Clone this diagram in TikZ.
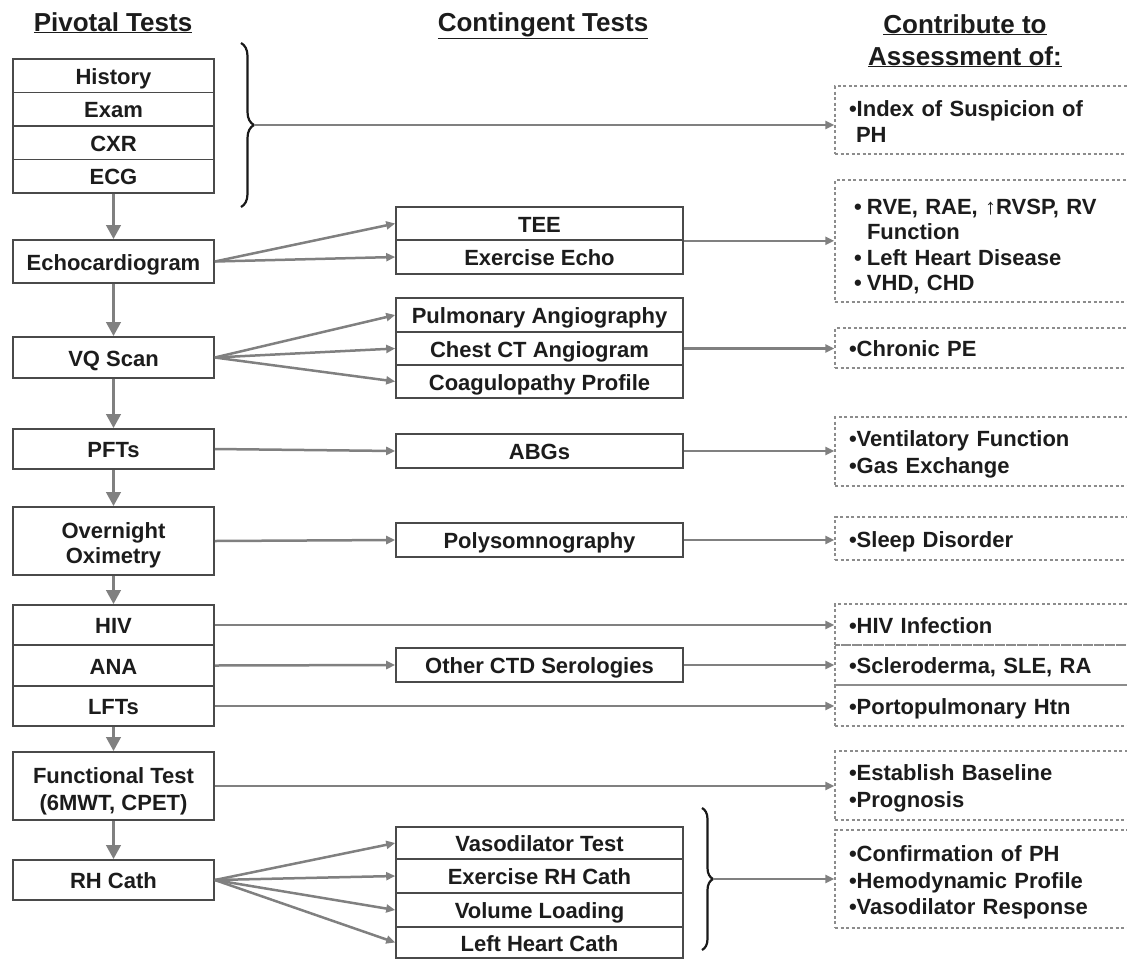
\documentclass[tikz,border=0pt]{standalone}
\usepackage{fontspec}
\setmainfont{Liberation Sans}
\usetikzlibrary{arrows.meta,decorations.pathreplacing}
\definecolor{boxc}{HTML}{4A4A4A}
\definecolor{arrc}{HTML}{808080}
\definecolor{dashc}{HTML}{8C8C8C}
\definecolor{txtc}{HTML}{1C1C1C}
\newcommand{\bul}{\makebox[13pt][l]{•}}
\begin{document}
\begin{tikzpicture}[x=1pt,y=-1pt,
  boxbase/.style={draw=boxc, line width=1.6pt, fill=white, minimum width=201pt, inner sep=0pt,
    align=center, text=txtc, font=\fontsize{22}{25.5}\selectfont\bfseries},
  lbox/.style={boxbase, text height=17pt, text depth=0pt},
  mbox/.style={lbox, minimum width=287pt},
  rbase/.style={draw=dashc, line width=1.3pt, dash pattern=on 3pt off 2.5pt, minimum width=296pt,
    text width=268pt, inner xsep=14pt, inner ysep=0pt, align=left, text=txtc,
    font=\fontsize{22}{26.5}\selectfont\bfseries},
  rbox/.style={rbase, text height=17pt, text depth=0pt},
  down/.style={draw=arrc, line width=3.5pt, -{Triangle[length=14pt,width=14pt]}},
  conn/.style={draw=arrc, line width=2.5pt, -{Triangle[length=9pt,width=8pt]}},
  hdr/.style={text=txtc, anchor=base, inner sep=0pt, font=\fontsize{26}{32}\selectfont\bfseries},
  bracestyle/.style={draw=black!90, line width=2.2pt, decorate}
]
\useasboundingbox (0,0) rectangle (1127,959);

% headers
\node[hdr] (h1) at (113,31) {\underline{Pivotal Tests}};
\node[hdr] (h2) at (543,31) {\underline{Contingent Tests}};
\node[hdr] (h3a) at (965,33) {\underline{Contribute to}};
\node[hdr] (h3b) at (965,65) {\underline{Assessment of:}};

% pivotal tests
\node[lbox, minimum height=33.5pt] (hist) at (113.5,75.75) {History};
\node[lbox, minimum height=33.5pt] (exam) at (113.5,109.25) {Exam};
\node[lbox, minimum height=33.5pt] (cxr) at (113.5,142.75) {CXR};
\node[lbox, minimum height=33.5pt] (ecg) at (113.5,176.25) {ECG};
\node[lbox, minimum height=43pt] (echo) at (113.5,261.5) {Echocardiogram};
\node[lbox, minimum height=41pt] (vq) at (113.5,357.5) {VQ Scan};
\node[lbox, minimum height=40pt] (pfts) at (113.5,449) {PFTs};
\node[boxbase, text height=50pt, minimum height=68pt] (oxim) at (113.5,541) {Overnight\\Oximetry};
\node[lbox, minimum height=40pt] (hiv) at (113.5,625) {HIV};
\node[lbox, minimum height=41pt] (ana) at (113.5,665.5) {ANA};
\node[lbox, minimum height=40pt] (lfts) at (113.5,706) {LFTs};
\node[boxbase, text height=54pt, minimum height=68pt, font=\fontsize{22}{27}\selectfont\bfseries] (func) at (113.5,786) {Functional Test\\(6MWT, CPET)};
\node[lbox, minimum height=40pt] (rh) at (113.5,880) {RH Cath};

% contingent tests
\node[mbox, minimum height=33pt] (tee) at (539.5,223.5) {TEE};
\node[mbox, minimum height=34pt] (exer) at (539.5,257) {Exercise Echo};
\node[mbox, minimum height=34pt] (pulm) at (539.5,315) {Pulmonary Angiography};
\node[mbox, minimum height=33pt] (chest) at (539.5,348.5) {Chest CT Angiogram};
\node[mbox, minimum height=33pt] (coag) at (539.5,381.5) {Coagulopathy Profile};
\node[mbox, minimum height=34pt] (abg) at (539.5,451) {ABGs};
\node[mbox, minimum height=34pt] (poly) at (539.5,540) {Polysomnography};
\node[mbox, minimum height=34pt] (ctd) at (539.5,665) {Other CTD Serologies};
\node[mbox, minimum height=32pt] (vaso) at (539.5,843) {Vasodilator Test};
\node[mbox, minimum height=34pt] (exrh) at (539.5,876) {Exercise RH Cath};
\node[mbox, minimum height=34pt] (vol) at (539.5,910) {Volume Loading};
\node[mbox, minimum height=31pt] (lhc) at (539.5,942.5) {Left Heart Cath};

% assessment
\node[rbase, text height=19pt, minimum height=68pt] (r1) at (983,120) {•Index of Suspicion of\\\hspace*{7pt}PH};
\node[rbase, text height=26pt, minimum height=122pt, font=\fontsize{22}{25.5}\selectfont\bfseries] (r2) at (983,241)
  {\hspace*{5pt}\bul RVE, RAE, ↑RVSP, RV\\\hspace*{18pt}Function\\\hspace*{5pt}\bul Left Heart Disease\\\hspace*{5pt}\bul VHD, CHD};
\node[rbox, minimum height=40pt] (r3) at (983,348) {•Chronic PE};
\node[rbase, text height=22pt, minimum height=69pt] (r4) at (983,451.5) {•Ventilatory Function\\•Gas Exchange};
\node[rbox, minimum height=43pt] (r5) at (983,538.5) {•Sleep Disorder};
\node[rbox, minimum height=41pt] (r6a) at (983,624.5) {•HIV Infection};
\node[rbox, minimum height=40pt] (r6b) at (983,665) {•Scleroderma, SLE, RA};
\node[rbox, minimum height=41pt] (r6c) at (983,705.5) {•Portopulmonary Htn};
\node[rbase, text height=22pt, minimum height=69pt] (r7) at (983,785.5) {•Establish Baseline\\•Prognosis};
\node[rbase, text height=23.5pt, minimum height=98pt] (r8) at (983,879) {•Confirmation of PH\\•Hemodynamic Profile\\•Vasodilator Response};

% braces
\draw[bracestyle, decoration={brace, amplitude=13pt}] (241,43) -- (241,207);
\coordinate (tipA) at (254,125);
\draw[bracestyle, decoration={brace, amplitude=11pt}] (702,808) -- (702,950);
\coordinate (tipB) at (713,879);

% vertical flow
\draw[down] (ecg) -- (echo);
\draw[down] (echo) -- (vq);
\draw[down] (vq) -- (pfts);
\draw[down] (pfts) -- (oxim);
\draw[down] (oxim) -- (hiv);
\draw[down] (lfts) -- (func);
\draw[down] (func) -- (rh);

% connectors
\draw[conn] (tipA) -- (tipA -| r1.west);
\draw[conn] (echo.east) -- (tee.west);
\draw[conn] (echo.east) -- (exer.west);
\draw[conn] (tee.south east) -- (tee.south east -| r2.west);
\draw[conn] (vq.east) -- (pulm.west);
\draw[conn] (vq.east) -- (chest.west);
\draw[conn] (vq.east) -- (coag.west);
\draw[conn] (chest.east) -- (chest.east -| r3.west);
\draw[conn] (pfts.east) -- (abg.west);
\draw[conn] (abg.east) -- (abg.east -| r4.west);
\draw[conn] (oxim.east) -- (poly.west);
\draw[conn] (poly.east) -- (poly.east -| r5.west);
\draw[conn] (hiv.east) -- (hiv.east -| r6a.west);
\draw[conn] (ana.east) -- (ctd.west);
\draw[conn] (ctd.east) -- (ctd.east -| r6b.west);
\draw[conn] (lfts.east) -- (lfts.east -| r6c.west);
\draw[conn] (func.east) -- (func.east -| r7.west);
\draw[conn] (rh.east) -- (vaso.west);
\draw[conn] (rh.east) -- (exrh.west);
\draw[conn] (rh.east) -- (vol.west);
\draw[conn] (rh.east) -- (lhc.west);
\draw[conn] (tipB) -- (tipB -| r8.west);
\end{tikzpicture}
\end{document}
